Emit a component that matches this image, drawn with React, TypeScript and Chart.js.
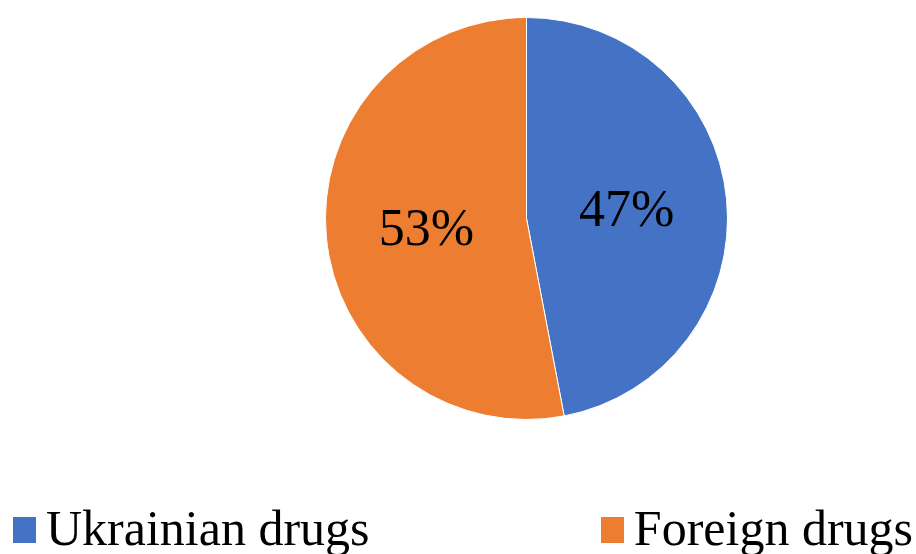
import React, { useEffect, useRef } from "react";
import { Chart, registerables } from "chart.js";

Chart.register(...registerables);

const categories: string[] = ["Ukrainian drugs", "Foreign drugs"];
const shares: number[] = [47, 53];
const sliceColors: string[] = ["#4472C4", "#ED7D31"];

const FONT = '"Liberation Serif", "Times New Roman", serif';

const pctLabelPlugin = {
  id: "pctLabels",
  afterDatasetsDraw(chart: any) {
    const meta = chart.getDatasetMeta(0);
    const data = chart.data.datasets[0].data as number[];
    const total = data.reduce((a, b) => a + b, 0);
    const ctx = chart.ctx;
    ctx.save();
    ctx.font = `52px ${FONT}`;
    ctx.fillStyle = "#000000";
    ctx.textAlign = "center";
    ctx.textBaseline = "middle";
    meta.data.forEach((arc: any, i: number) => {
      const p = arc.getCenterPoint();
      const pct = Math.round((data[i] / total) * 100);
      ctx.fillText(`${pct}%`, p.x, p.y + 3);
    });
    ctx.restore();
  },
};

export default function App() {
  const canvasRef = useRef<HTMLCanvasElement | null>(null);

  useEffect(() => {
    if (!canvasRef.current) return;
    const chart = new Chart(canvasRef.current, {
      type: "pie",
      data: {
        labels: categories,
        datasets: [
          {
            data: shares,
            backgroundColor: sliceColors,
            borderColor: "#ffffff",
            borderWidth: 1,
          },
        ],
      },
      options: {
        responsive: false,
        animation: false,
        devicePixelRatio: 1,
        layout: { padding: { top: 17, bottom: 20, left: 137, right: 0 } },
        plugins: {
          legend: { display: false },
          tooltip: { enabled: false },
        },
      },
      plugins: [pctLabelPlugin],
    });
    return () => chart.destroy();
  }, []);

  return (
    <div
      style={{
        position: "fixed",
        left: 0,
        top: 0,
        width: 916,
        height: 554,
        background: "#ffffff",
        overflow: "hidden",
      }}
    >
      <canvas
        ref={canvasRef}
        width={916}
        height={440}
        style={{ position: "absolute", left: 0, top: 0, width: 916, height: 440 }}
      />
      <div
        style={{
          position: "absolute",
          left: 13,
          right: 3,
          top: 503,
          display: "flex",
          justifyContent: "space-between",
          fontFamily: FONT,
          fontSize: 50,
          lineHeight: "50px",
          color: "#000000",
          whiteSpace: "nowrap",
        }}
      >
        {categories.map((c, i) => (
          <div key={c} style={{ position: "relative", paddingLeft: 33, height: 50 }}>
            <span
              style={{
                position: "absolute",
                left: 0,
                top: 14,
                width: 23,
                height: 26,
                background: sliceColors[i],
              }}
            />
            {c}
          </div>
        ))}
      </div>
    </div>
  );
}
